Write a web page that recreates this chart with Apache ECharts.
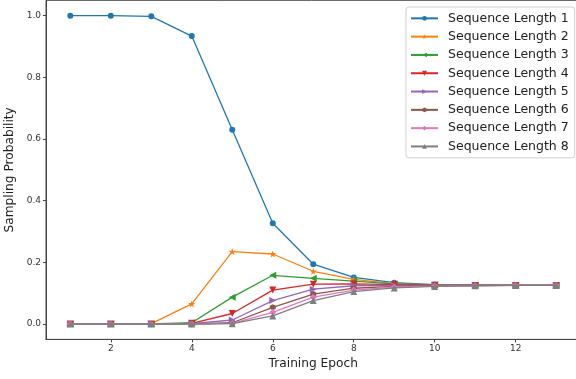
<!DOCTYPE html>
<html>
<head>
<meta charset="utf-8">
<script src="https://cdn.jsdelivr.net/npm/echarts@6/dist/echarts.min.js"></script>
<style>
html,body{margin:0;padding:0;background:#fff;}
#chart{width:576px;height:379px;}
</style>
</head>
<body>
<div id="chart"></div>
<script>
const epochs = [1,2,3,4,5,6,7,8,9,10,11,12,13];
const seriesNames = ["Sequence Length 1","Sequence Length 2","Sequence Length 3","Sequence Length 4","Sequence Length 5","Sequence Length 6","Sequence Length 7","Sequence Length 8"];
const len1 = [1.0, 1.0, 0.998, 0.934, 0.630, 0.327, 0.194, 0.151, 0.134, 0.128, 0.126, 0.125, 0.125];
const len2 = [0, 0, 0.001, 0.065, 0.235, 0.227, 0.171, 0.145, 0.131, 0.127, 0.126, 0.125, 0.125];
const len3 = [0, 0, 0, 0.004, 0.087, 0.158, 0.148, 0.139, 0.130, 0.127, 0.126, 0.125, 0.125];
const len4 = [0, 0, 0, 0.002, 0.034, 0.110, 0.129, 0.130, 0.128, 0.126, 0.125, 0.125, 0.125];
const len5 = [0, 0, 0, 0.001, 0.013, 0.076, 0.113, 0.124, 0.125, 0.125, 0.125, 0.125, 0.125];
const len6 = [0, 0, 0, 0, 0.004, 0.054, 0.097, 0.116, 0.122, 0.124, 0.125, 0.125, 0.125];
const len7 = [0, 0, 0, 0, 0.002, 0.038, 0.087, 0.110, 0.120, 0.123, 0.124, 0.125, 0.125];
const len8 = [0, 0, 0, 0, 0.001, 0.026, 0.076, 0.105, 0.117, 0.122, 0.124, 0.125, 0.125];
const xTicks = [2,4,6,8,10,12];
const yTicks = [0,0.2,0.4,0.6,0.8,1.0];

const allValues = [len1,len2,len3,len4,len5,len6,len7,len8];
const colors = ['#1f77b4','#ff7f0e','#2ca02c','#d62728','#9467bd','#8c564b','#e377c2','#7f7f7f'];
const STAR = 'path://M0,-10 L2.35,-3.24 L9.51,-3.09 L3.8,1.24 L5.88,8.09 L0,4 L-5.88,8.09 L-3.8,1.24 L-9.51,-3.09 L-2.35,-3.24 Z';
const HEX = 'path://M0,-10 L8.66,-5 L8.66,5 L0,10 L-8.66,5 L-8.66,-5 Z';
const symbols = [
  {s:'circle', r:0, size:6},
  {s:STAR, r:0, size:7},
  {s:'triangle', r:90, size:7},
  {s:'triangle', r:180, size:7},
  {s:'triangle', r:-90, size:7},
  {s:HEX, r:0, size:6},
  {s:'diamond', r:0, size:7},
  {s:'triangle', r:0, size:7}
];
const FONT = 'DejaVu Sans';

const series = allValues.map((vals, i) => ({
  name: seriesNames[i],
  type: 'line',
  data: epochs.map((e, j) => [e, vals[j]]),
  symbol: symbols[i].s,
  symbolRotate: symbols[i].r,
  symbolSize: symbols[i].size,
  showSymbol: true,
  color: colors[i],
  lineStyle: {width: 1.3, color: colors[i]},
  itemStyle: {color: colors[i]},
  z: 2 + i,
  animation: false
}));

const chart = echarts.init(document.getElementById('chart'), null, {renderer: 'canvas'});
chart.setOption({
  animation: false,
  backgroundColor: '#fff',
  grid: {left: 46, right: -4.5, top: 0.3, bottom: 39.6, outerBoundsMode: 'none', containLabel: false,
    show: true, borderColor: '#444', borderWidth: 1, backgroundColor: 'transparent'},
  legend: {
    orient: 'vertical',
    left: 406, top: 7,
    padding: [4, 6, 4, 4],
    itemWidth: 27, itemHeight: 6, itemGap: 3.6,
    borderColor: '#d0d0d0', borderWidth: 1, borderRadius: 3,
    backgroundColor: '#fff',
    z: 20,
    textStyle: {fontFamily: FONT, fontSize: 12.5, color: '#222', padding: [0,0,0,5], lineHeight: 14.7},
    data: seriesNames
  },
  xAxis: {
    type: 'value', min: 0.4, max: 13.6,
    name: 'Training Epoch', nameLocation: 'middle', nameGap: 17,
    nameTextStyle: {fontFamily: FONT, fontSize: 12.2, color: '#222'},
    axisLine: {show: true, onZero: false, lineStyle: {color: '#444', width: 1}},
    axisTick: {show: true, customValues: xTicks, length: 3, lineStyle: {color: '#444'}},
    axisLabel: {customValues: xTicks, fontFamily: FONT, fontSize: 9, color: '#333', margin: 5},
    splitLine: {show: false}
  },
  yAxis: {
    type: 'value', min: -0.05, max: 1.05,
    name: 'Sampling Probability', nameLocation: 'middle', nameGap: 27,
    nameTextStyle: {fontFamily: FONT, fontSize: 12.2, color: '#222'},
    axisLine: {show: true, onZero: false, lineStyle: {color: '#444', width: 1}},
    axisTick: {show: true, customValues: yTicks, length: 3, lineStyle: {color: '#444'}},
    axisLabel: {customValues: yTicks, fontFamily: FONT, fontSize: 9, color: '#333', margin: 5,
      formatter: v => v.toFixed(1)},
    splitLine: {show: false}
  },
  series: series
});
</script>
</body>
</html>
